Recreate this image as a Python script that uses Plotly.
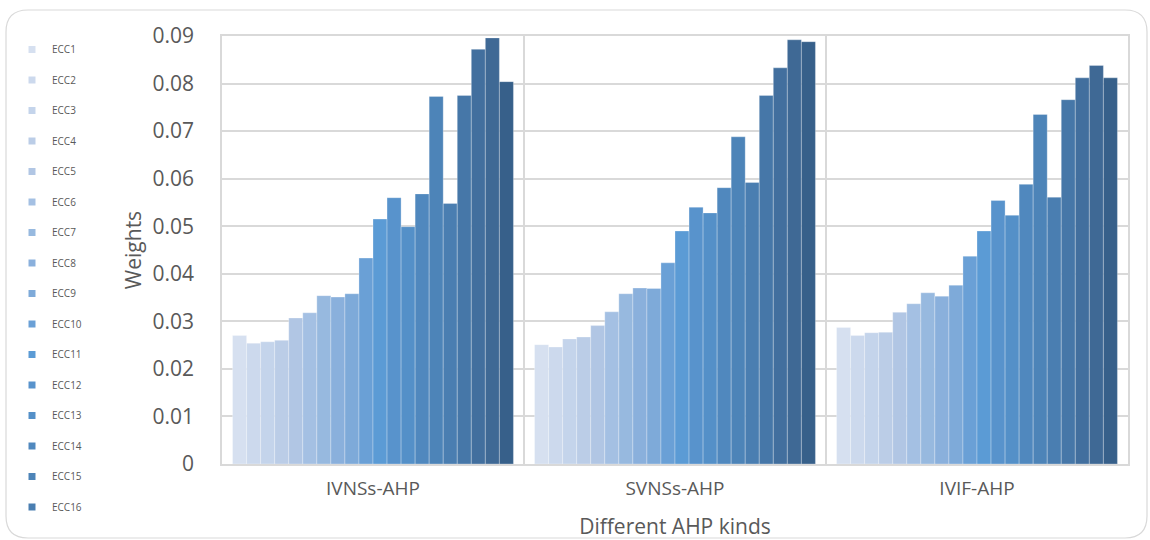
import plotly.graph_objects as go

# AHP variants on the category axis
methods = ["IVNSs-AHP", "SVNSs-AHP", "IVIF-AHP"]

# Criteria ECC1..ECC20 (the legend lists the first sixteen)
criteria = [f"ECC{i}" for i in range(1, 21)]

# Weight of each criterion under each method: [IVNSs, SVNSs, IVIF]
ivnss_ahp = [0.0270, 0.0254, 0.0257, 0.0260, 0.0307, 0.0318, 0.0354, 0.0351, 0.0358, 0.0433,
             0.0515, 0.0560, 0.0499, 0.0568, 0.0773, 0.0548, 0.0775, 0.0872, 0.0896, 0.0804]
svnss_ahp = [0.0251, 0.0246, 0.0263, 0.0267, 0.0291, 0.0320, 0.0358, 0.0370, 0.0369, 0.0423,
             0.0490, 0.0540, 0.0528, 0.0581, 0.0688, 0.0592, 0.0775, 0.0833, 0.0892, 0.0888]
ivif_ahp = [0.0287, 0.0270, 0.0276, 0.0277, 0.0319, 0.0337, 0.0360, 0.0353, 0.0376, 0.0437,
            0.0490, 0.0554, 0.0523, 0.0588, 0.0735, 0.0561, 0.0766, 0.0812, 0.0838, 0.0812]

# Monochromatic blue ramp, light tints to dark shades
colors = ["#d6e0f0", "#ccd9ed", "#c4d4eb", "#bbcde7", "#b1c6e4", "#a4c0e3", "#97b9df",
          "#8ab0dc", "#7eaad9", "#6aa0d6", "#5b9bd5", "#5893cc", "#5490c8", "#5088be",
          "#4d84b8", "#4a7eb1", "#4677a8", "#426f9e", "#3f6995", "#37608a"]

LEGEND_COUNT = 16
TEXT = "#595959"
GRID = "#d9d9d9"
FONT = "Open Sans, Noto Sans, sans-serif"

fig = go.Figure()

for i, name in enumerate(criteria):
    vals = [ivnss_ahp[i], svnss_ahp[i], ivif_ahp[i]]
    fig.add_trace(go.Bar(
        x=methods, y=vals, name=name,
        marker=dict(color=colors[i], line=dict(color="rgba(255,255,255,0.35)", width=0.8)),
        showlegend=False,
    ))

# Small square swatches for the legend
for i in range(LEGEND_COUNT):
    fig.add_trace(go.Scatter(
        x=[None], y=[None], mode="markers", name=criteria[i],
        marker=dict(symbol="square", size=7, color=colors[i]),
        legendgroup=criteria[i], showlegend=True,
    ))

# Rounded chart-area frame (pixel geometry converted to paper units)
W, H = 1150, 540
L, R, T, B = 222, 22, 36, 76
pw, ph = W - L - R, H - T - B

def px(x):
    return (x - L) / pw

def py(y):
    return (H - B - y) / ph

x0, x1, y0, y1, r = 6, 1147, 10, 538, 22
frame = (f"M {px(x0 + r)},{py(y0)} L {px(x1 - r)},{py(y0)} "
         f"Q {px(x1)},{py(y0)} {px(x1)},{py(y0 + r)} "
         f"L {px(x1)},{py(y1 - r)} Q {px(x1)},{py(y1)} {px(x1 - r)},{py(y1)} "
         f"L {px(x0 + r)},{py(y1)} Q {px(x0)},{py(y1)} {px(x0)},{py(y1 - r)} "
         f"L {px(x0)},{py(y0 + r)} Q {px(x0)},{py(y0)} {px(x0 + r)},{py(y0)} Z")

fig.update_layout(
    width=W, height=H,
    margin=dict(l=L, r=R, t=T, b=B, autoexpand=False),
    paper_bgcolor="white", plot_bgcolor="white",
    barmode="group", bargap=0.07, bargroupgap=0,
    font=dict(family=FONT, color=TEXT),
    showlegend=True,
    legend=dict(
        xref="container", yref="container",
        x=12 / W, y=1 - 35 / H, xanchor="left", yanchor="top",
        font=dict(size=10, color=TEXT, family=FONT),
        tracegroupgap=11.5, itemwidth=30, maxheight=1.0,
        bgcolor="rgba(0,0,0,0)",
    ),
    shapes=[dict(type="path", path=frame, xref="paper", yref="paper",
                 line=dict(color="#d9d9d9", width=1.2), layer="below")],
)

fig.update_xaxes(
    type="category", automargin=False,
    showline=True, mirror=True, linecolor=GRID, linewidth=1.5,
    showgrid=True, gridcolor=GRID, gridwidth=1.5, tickson="boundaries",
    ticks="", tickfont=dict(size=19, color=TEXT), ticklabelstandoff=6,
    title=dict(text="Different AHP kinds", font=dict(size=21, color=TEXT), standoff=22),
)

fig.update_yaxes(
    range=[0, 0.09], dtick=0.01, tick0=0, automargin=False,
    showline=True, mirror=True, linecolor=GRID, linewidth=1.5,
    showgrid=True, gridcolor=GRID, gridwidth=1.5, zeroline=False,
    ticks="", tickfont=dict(size=21, color=TEXT), ticklabelstandoff=22,
    title=dict(text="Weights", font=dict(size=21, color=TEXT), standoff=5),
)

fig.write_html("out.html")
